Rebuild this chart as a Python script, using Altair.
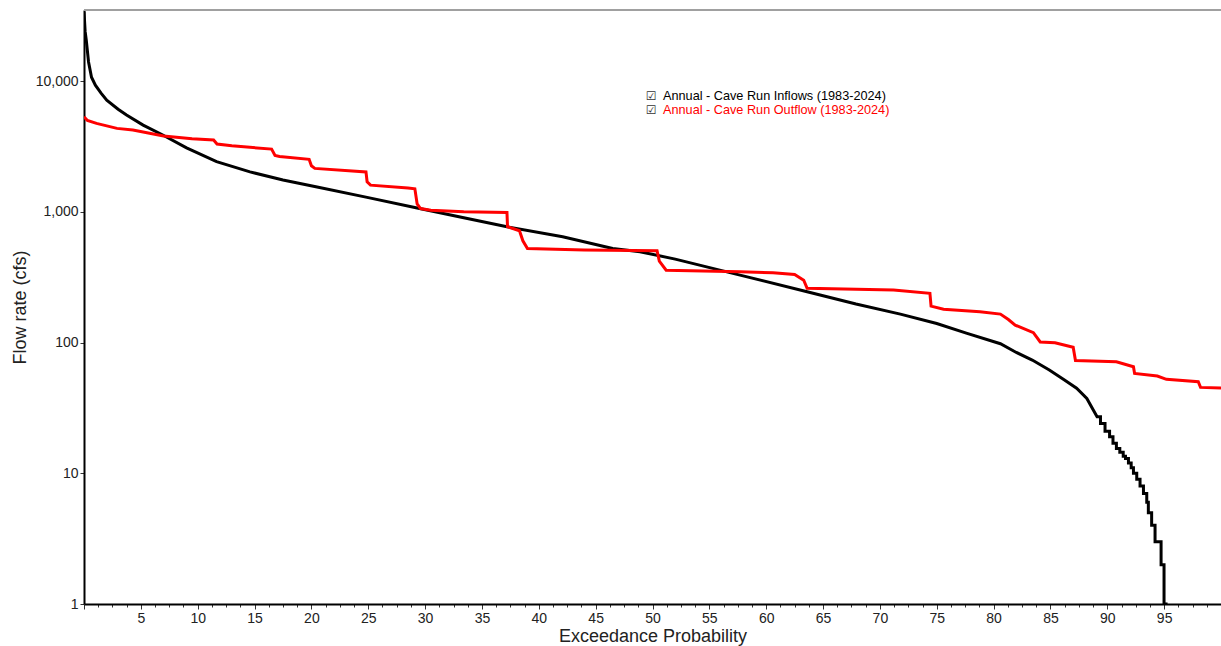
import altair as alt
import pandas as pd

# ---- data ----
inflow_p = [0.0, 0.1, 0.2, 0.4, 0.66, 1.0, 1.5, 2.0, 3.0, 3.74, 5.2, 6.93, 9.02, 11.66, 14.6,
            17.5, 20.5, 24.9, 29.3, 33.4, 37.2, 42.1, 46.5, 48.9, 52.0, 57.7, 63.6,
            67.9, 71.8, 75.0, 77.6, 80.6, 82.0, 83.4, 84.9, 86.2, 87.3, 88.2, 89.1, 89.4, 89.4,
            89.8, 89.8, 90.2, 90.2, 90.5, 90.5, 90.8, 90.8, 91.1, 91.1, 91.4, 91.4, 91.6, 91.6,
            91.86, 91.86, 92.1, 92.1, 92.3, 92.3, 92.59, 92.59,
            92.88, 92.88, 93.18, 93.18, 93.47, 93.47, 93.61, 93.61, 93.9, 93.9, 94.2, 94.2,
            94.73, 94.73, 94.99, 94.99, 95.3]
inflow_v = [34000, 24000, 20600, 14000, 10700, 9300, 8100, 7160, 6100, 5500, 4610, 3870, 3090,
            2420, 2020, 1750, 1550, 1290, 1070, 900, 769, 645, 525, 495, 435, 328,
            245, 197, 165, 140, 118, 98, 84, 73.5, 61.7, 52, 44.7, 37.4, 27.1, 27.1, 24,
            24, 21, 21, 19, 19, 17, 17, 15.5, 15.5, 14.5, 14.5, 13.5, 13.5, 13,
            13, 12, 12, 11, 11, 10, 10, 9, 9, 8, 8, 7, 7, 6, 6, 5, 5, 4, 4,
            3, 3, 2, 2, 1, 1]

outflow_p = [0.0, 0.3, 1.1, 2.9, 4.3, 7.0, 9.5, 11.4, 11.7, 13.0, 16.5, 16.8, 17.2, 19.8, 20.0,
             20.3, 24.8, 24.9, 25.2, 28.5, 29.1, 29.3, 29.6, 30.5, 33.4, 37.2, 37.25, 38.3,
             38.6, 39.0, 44.0, 50.4, 50.6, 51.2, 57.7, 60.6, 62.5, 63.3, 63.6, 71.2, 74.4,
             74.5, 75.6, 78.8, 80.6, 81.3, 81.9, 83.5, 84.1, 85.4, 87.0, 87.2, 90.8, 92.3,
             92.4, 94.4, 95.2, 98.0, 98.2, 100.0]
outflow_v = [5330, 5000, 4750, 4350, 4220, 3800, 3620, 3540, 3300, 3200, 3020, 2700, 2650, 2520,
             2250, 2150, 2020, 1700, 1600, 1520, 1500, 1150, 1060, 1030, 1000, 990, 769, 716,
             600, 525, 510, 504, 420, 358, 348, 342, 332, 300, 260, 252, 238, 190, 180, 172,
             165, 150, 136, 119, 101, 99.7, 92, 73, 71.3, 65.3, 58.1, 55.4, 52.3, 50.2, 45.4, 45]

series_names = ["Annual - Cave Run Inflows (1983-2024)", "Annual - Cave Run Outflow (1983-2024)"]
series_colors = ["#000000", "#ff0000"]

x_ticks = [i * 1.25 for i in range(81)]
y_ticks = [1, 10, 100, 1000, 10000]

W, H = 1137, 594
FONT = "Liberation Sans"

rows = []
for i, (p, v) in enumerate(zip(inflow_p, inflow_v)):
    rows.append({"p": p, "v": v, "s": series_names[0], "o": i})
for i, (p, v) in enumerate(zip(outflow_p, outflow_v)):
    rows.append({"p": p, "v": v, "s": series_names[1], "o": i})
df = pd.DataFrame(rows)

x_axis = alt.Axis(
    title="Exceedance Probability", values=x_ticks, grid=False,
    labelExpr="(datum.value % 5 == 0 && datum.value > 0 && datum.value < 100) ? datum.label : ''",
    labelOverlap=False, labelFlush=False, labelFont=FONT, labelFontSize=14, labelColor="#222222",
    labelPadding=2, titleFont=FONT, titleFontSize=18, titleFontWeight="normal", titleColor="#222222",
    titlePadding=2, domainColor="#000000", domainWidth=2, tickColor="#333333",
    tickSize={"condition": {"test": "datum.value % 5 == 0", "value": 5}, "value": 3},
)
y_axis = alt.Axis(
    title="Flow rate (cfs)", values=y_ticks, format=",", grid=False,
    labelFont=FONT, labelFontSize=14, labelColor="#222222", labelPadding=2,
    titleFont=FONT, titleFontSize=18, titleFontWeight="normal", titleColor="#222222",
    titlePadding=6, domainColor="#000000", domainWidth=2, tickColor="#333333", tickSize=4,
)

lines = alt.Chart(df).mark_line(strokeWidth=3, clip=True).encode(
    x=alt.X("p:Q", scale=alt.Scale(domain=[0, 100], nice=False, zero=False), axis=x_axis),
    y=alt.Y("v:Q", scale=alt.Scale(type="log", domain=[1, 35000], nice=False), axis=y_axis),
    color=alt.Color("s:N", scale=alt.Scale(domain=series_names, range=series_colors), legend=None),
    order="o:Q",
)

one = pd.DataFrame({"a": [0]})
top_rule = alt.Chart(one).mark_rule(color="#a0a0a0", strokeWidth=2).encode(
    x=alt.value(0), x2=alt.value(W), y=alt.value(0)
)

leg_layers = []
for i, (name, col) in enumerate(zip(series_names, series_colors)):
    yy = 86 + 14 * i
    leg_layers.append(
        alt.Chart(one).mark_text(text="\u2611", font="DejaVu Sans", fontSize=12, color="#333333",
                                 align="center", baseline="middle").encode(
            x=alt.value(567), y=alt.value(yy))
    )
    leg_layers.append(
        alt.Chart(one).mark_text(text=name, font=FONT, fontSize=12.7, color=col,
                                 align="left", baseline="middle").encode(
            x=alt.value(579), y=alt.value(yy))
    )

chart = alt.layer(lines, top_rule, *leg_layers).properties(
    width=W, height=H,
    padding={"left": 84, "top": 10, "right": 0, "bottom": 42},
    autosize=alt.AutoSizeParams(type="none"),
).configure_view(stroke=None).configure(background="white")

chart.save("out.html", embed_options={"renderer": "svg", "actions": False})
